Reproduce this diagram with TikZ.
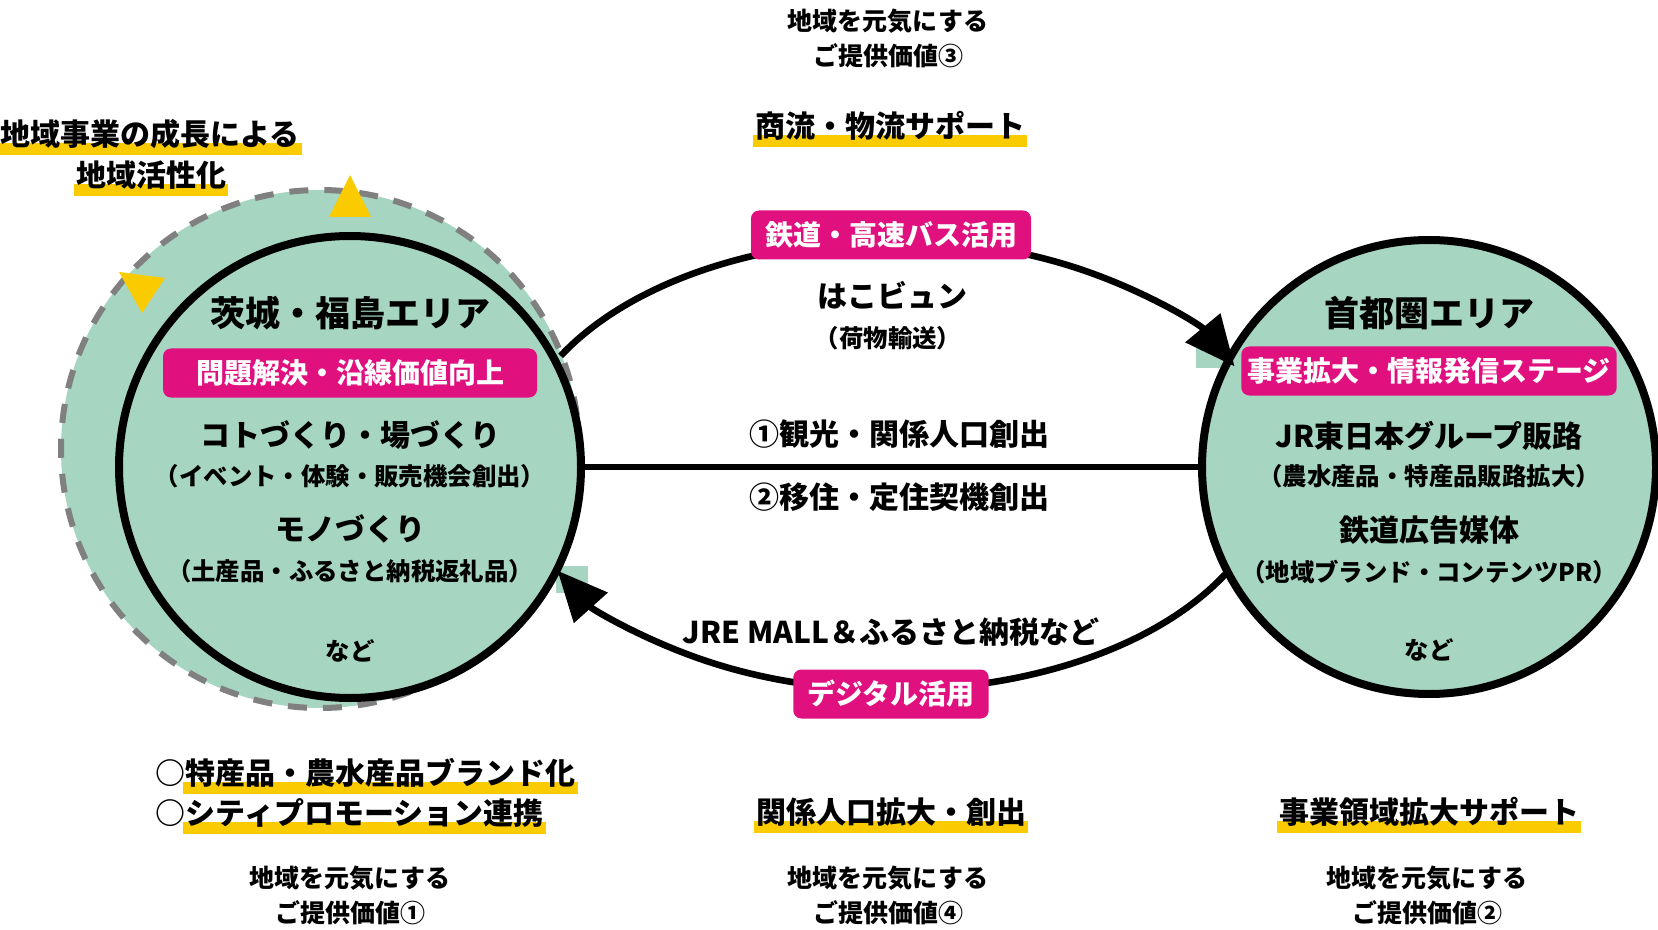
\documentclass[tikz,border=0pt]{standalone}
\usepackage{fontspec}
\setmainfont{Noto Sans CJK JP}
\usepackage{tikz}
\usetikzlibrary{arrows.meta,positioning,backgrounds}

\definecolor{areagreen}{RGB}{166,213,193}
\definecolor{stagepink}{RGB}{224,16,127}
\definecolor{hlyellow}{RGB}{250,204,0}
\definecolor{ringgray}{RGB}{128,128,128}

\tikzset{
  bigtitle/.style={inner sep=0pt, text height=14.5pt, text depth=1.2pt, font=\fontsize{17.5}{20}\selectfont\bfseries},
  item/.style={inner sep=0pt, text height=12.4pt, text depth=1pt, font=\fontsize{15}{18}\selectfont\bfseries},
  sub/.style={inner sep=0pt, text height=10.1pt, text depth=0.9pt, font=\fontsize{12.2}{15}\selectfont\bfseries},
  value/.style={inner sep=0pt, align=center, text height=10.4pt, text depth=0.9pt, font=\fontsize{12.5}{17.5}\selectfont\bfseries},
  stage/.style={fill=stagepink, text=white, rounded corners=4pt, inner xsep=7pt, inner ysep=0pt,
    minimum height=24.5pt, text height=11.6pt, text depth=1pt, font=\fontsize{14}{16}\selectfont\bfseries},
  areastage/.style={stage, inner xsep=3pt, minimum width=187pt},
  hlbar/.style={fill=hlyellow},
  area/.style={circle, draw=black, line width=4pt, fill=areagreen, inner sep=0pt, outer sep=0pt},
  flow/.style={line width=3.3pt, -{Triangle[length=25pt, width=22pt]}},
}

\begin{document}
\begin{tikzpicture}[x=0.5pt, y=-0.5pt]

	\useasboundingbox (0,0) rectangle (1658,930);

	% growing region ring
	\draw[ringgray, line width=3pt, dash pattern=on 9.5pt off 8pt, fill=areagreen] (320,449) circle (259);
	\fill[hlyellow] (350,175) -- (371,217) -- (329,217) -- cycle;
	\fill[hlyellow] (119,272) -- (165,278) -- (142,313) -- cycle;

	\fill[areagreen] (1196,340) rectangle (1227,368);
	\fill[areagreen] (556,566) rectangle (588,593);

	\node[area, minimum size=231pt] (ibk) at (350,467) {};
	\node[area, minimum size=227pt] (tok) at (1429,467) {};

	\coordinate (loop) at (893,465);
	\draw[flow] (loop) ++(-151:380 and 225) arc[start angle=-151, end angle=-26, x radius=380, y radius=225];
	\draw[flow] (loop) ++(29:380 and 225) arc[start angle=29, end angle=152, x radius=380, y radius=225];
	\draw[line width=3.2pt] (ibk.east) -- (tok.west);

	% left area
	\node[bigtitle] (ibtitle) at (350,313) {茨城・福島エリア};
	\node[areastage] (ibstage) at (350,373) {問題解決・沿線価値向上};
	\node[item] (koto) at (350,435) {コトづくり・場づくり};
	\node[sub] (kotosub) at (350,476) {（イベント・体験・販売機会創出）};
	\node[item] (mono) at (350,529) {モノづくり};
	\node[sub] (monosub) at (350,571) {（土産品・ふるさと納税返礼品）};
	\node[sub] (ibetc) at (350,651) {など};

	% right area
	\node[bigtitle] (toktitle) at (1429,313) {首都圏エリア};
	\node[areastage] (tokstage) at (1429,371) {事業拡大・情報発信ステージ};
	\node[item] (jr) at (1429,436) {JR東日本グループ販路};
	\node[sub] (jrsub) at (1429,476) {（農水産品・特産品販路拡大）};
	\node[item] (ad) at (1429,530) {鉄道広告媒体};
	\node[sub] (adsub) at (1429,572) {（地域ブランド・コンテンツPR）};
	\node[sub] (toketc) at (1429,650) {など};

	% between the areas
	\node[stage] (rail) at (891,235) {鉄道・高速バス活用};
	\node[item] (hako) at (892,296) {はこビュン};
	\node[sub] (hakosub) at (888,338) {（荷物輸送）};
	\node[item] (kanko) at (899,434) {①観光・関係人口創出};
	\node[item] (iju) at (899,497) {②移住・定住契機創出};
	\node[item] (mall) at (891,632) {JRE MALL＆ふるさと納税など};
	\node[stage] (digital) at (891,694) {デジタル活用};

	% values
	\node[value] (val3) at (888,56.5) {地域を元気にする\\ご提供価値③};
	\node[item] (logi) at (890,126) {商流・物流サポート};
	\node[item] (grow1) at (150,134) {地域事業の成長による};
	\node[item] (grow2) at (151,175) {地域活性化};

	\node[item] (mk1) at (170,773) {○};
	\node[item, right=0pt of mk1] (brand) {特産品・農水産品ブランド化};
	\node[item] (mk2) at (170,813) {○};
	\node[item, right=0pt of mk2] (city) {シティプロモーション連携};
	\node[value] (val1) at (350,912.5) {地域を元気にする\\ご提供価値①};

	\node[item] (kankei) at (891,812) {関係人口拡大・創出};
	\node[value] (val4) at (888,912.5) {地域を元気にする\\ご提供価値④};

	\node[item] (jigyo) at (1429,812) {事業領域拡大サポート};
	\node[value] (val2) at (1427,912.5) {地域を元気にする\\ご提供価値②};

	\begin{scope}[on background layer]
		\foreach \n in {logi,grow1,grow2,brand,city,kankei,jigyo}
			\fill[hlbar] ([xshift=-1pt,yshift=1pt]\n.base west) rectangle ([xshift=1pt,yshift=-5pt]\n.base east);
	\end{scope}

\end{tikzpicture}
\end{document}
